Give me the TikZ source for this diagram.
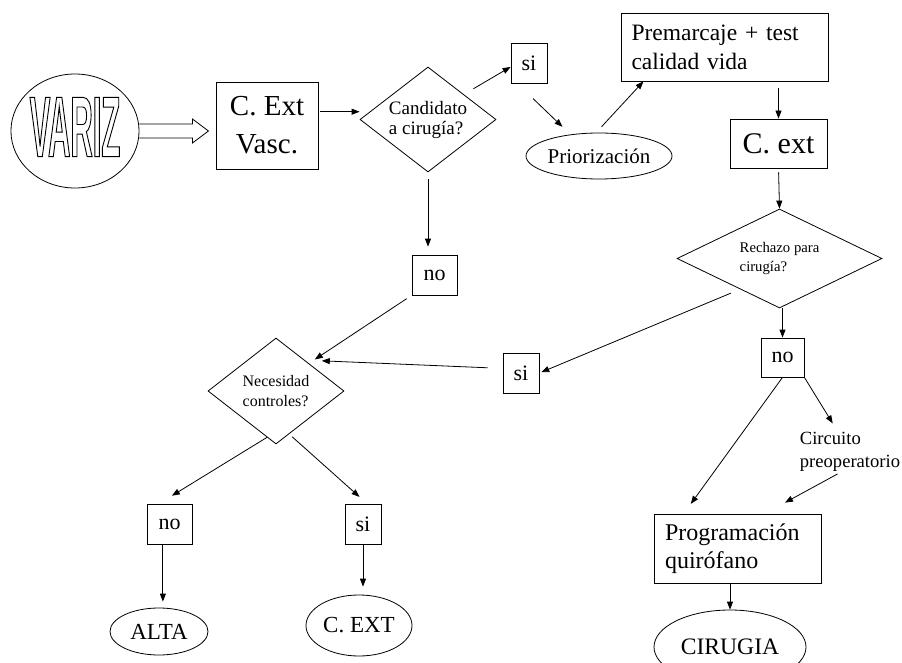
\documentclass[tikz,border=0pt]{standalone}
\usepackage{graphicx}
\usepackage{fontspec}
\setmainfont{Liberation Serif}
\newfontfamily\varizfont[FakeStretch=0.36]{Liberation Sans}
\usetikzlibrary{shapes, arrows.meta}

\begin{document}
\begin{tikzpicture}[x=1pt,y=-1pt,line width=0.8pt,
  caja/.style={draw,rectangle,inner sep=0pt},
  rombo/.style={draw,diamond,inner sep=0pt},
  elipse/.style={draw,ellipse,inner sep=0pt},
  flecha/.style={-{Triangle[length=8pt,width=6pt]}}]

\useasboundingbox (0,0) rectangle (902,663);
\clip (0,0) rectangle (902,663);

\node[elipse,minimum width=128pt,minimum height=114pt] (variz) at (75,131)
  {\raisebox{8pt}{\fontsize{86}{90}\varizfont\bfseries\special{pdf:literal direct 1 Tr 0.9 w}VARIZ\special{pdf:literal direct 0 Tr}}};

\node[caja,minimum width=102pt,minimum height=87pt,align=center,
  font=\fontsize{29}{38}\selectfont] (cext) at (267,125.5) {C. Ext\\Vasc.};

\node[rombo,minimum width=136pt,minimum height=105pt,aspect=1.3,align=left,
  font=\fontsize{19}{20}\selectfont] (cand) at (428,119.5) {Candidato\\a cirugía?};

\node[caja,minimum width=36pt,minimum height=40pt,font=\fontsize{22}{26}\selectfont] (si1) at (529,63) {si};

\node[elipse,minimum width=146pt,minimum height=46pt,font=\fontsize{21}{25}\selectfont] (prio) at (599,156) {Priorización};

\node[caja,minimum width=207pt,minimum height=68pt,text width=186pt,align=left,
  font=\fontsize{23.5}{29}\selectfont] (prem) at (724.5,47) {Premarcaje + test\\calidad vida};

\node[caja,minimum width=97pt,minimum height=49pt,font=\fontsize{30}{32}\selectfont] (cext2) at (778.5,143.5) {C. ext};

\node[rombo,minimum width=205pt,minimum height=99pt,aspect=2,align=left,
  font=\fontsize{14.7}{19}\selectfont] (rech) at (779.5,258.5) {Rechazo para\\cirugía?};

\node[caja,minimum width=43pt,minimum height=39pt,font=\fontsize{22}{26}\selectfont] (no2) at (782.5,357.5) {no};

\node[inner sep=0pt,align=left,font=\fontsize{18.6}{23}\selectfont] (circ) at (850,452) {Circuito\\preoperatorio};

\node[caja,minimum width=167pt,minimum height=69pt,text width=145pt,align=left,
  font=\fontsize{24}{28}\selectfont] (prog) at (737.5,548.5) {Programación\\quirófano};

\node[elipse,minimum width=152pt,minimum height=74pt,font=\fontsize{23.6}{28}\selectfont] (ciru) at (730,647) {CIRUGIA};

\node[caja,minimum width=45pt,minimum height=40pt,font=\fontsize{22}{26}\selectfont] (no1) at (434.5,275) {no};

\node[caja,minimum width=36pt,minimum height=40pt,font=\fontsize{22}{26}\selectfont] (si2) at (521,373) {si};

\node[rombo,minimum width=136pt,minimum height=106pt,aspect=1.28,align=left,
  font=\fontsize{16}{20}\selectfont] (nec) at (276,391) {Necesidad\\controles?};

\node[caja,minimum width=45pt,minimum height=40pt,font=\fontsize{22}{26}\selectfont] (no3) at (169.5,524) {no};

\node[caja,minimum width=36pt,minimum height=40pt,font=\fontsize{22}{26}\selectfont] (si3) at (363,524) {si};

\node[elipse,minimum width=98pt,minimum height=47pt,font=\fontsize{23}{27}\selectfont] (alta) at (159,631.5) {ALTA};

\node[elipse,minimum width=106pt,minimum height=61pt,font=\fontsize{23}{27}\selectfont] (cext3) at (359,625.5) {C. EXT};

\draw (variz.east) ++(0,-7) -- ++(53,0) -- ++(0,-5) -- ++(16,12) -- ++(-16,12) -- ++(0,-5) -- ++(-53,0);

\draw[flecha,shorten <=2pt] (cext.15) -- (cand.west |- cext.15);
\draw[flecha,shorten <=11pt] (cand.35) -- (si1.192);
\draw[flecha,shorten <=22pt,shorten >=11pt] (si1.240) -- (prio.143);
\draw[flecha,shorten <=8pt] (prio.97) -- (prem.203);
\draw[flecha,shorten <=7pt] (cext2.north |- prem.south) -- (cext2.north);
\draw[flecha,shorten <=4pt] (cext2.south) -- (rech.north);
\draw[flecha] (no2.north |- rech.south) -- (no2.north);
\draw[flecha,shorten <=10pt,shorten >=2pt] (rech.218) -- (si2.east);
\draw[flecha,shorten >=12pt] (no2.south) -- (prog.147);
\draw[flecha,shorten >=10pt] (no2.south east) -- (circ.121);
\draw[flecha,shorten <=4pt,shorten >=23pt] (circ.246) -- (prog.52);
\draw[flecha] (ciru.north |- prog.south) -- (ciru.north);

\draw[flecha,shorten <=7pt,shorten >=8pt] (cand.south) -- (cand.south |- no1.north);
\draw[flecha,shorten <=6pt,shorten >=7pt] (no1.south west) -- (nec.40);
\draw[flecha,shorten <=15pt,shorten >=17pt] (si2.166) -- (nec.47);
\draw[flecha,shorten >=15pt] (nec.259) -- (no3.117);
\draw[flecha,shorten <=4pt,shorten >=10pt] (nec.287) -- (si3.79);
\draw[flecha,shorten >=6pt] (no3.252) -- (no3.252 |- alta.north);
\draw[flecha,shorten >=8pt] (si3.south) -- (si3.south |- cext3.north);

\end{tikzpicture}
\end{document}
